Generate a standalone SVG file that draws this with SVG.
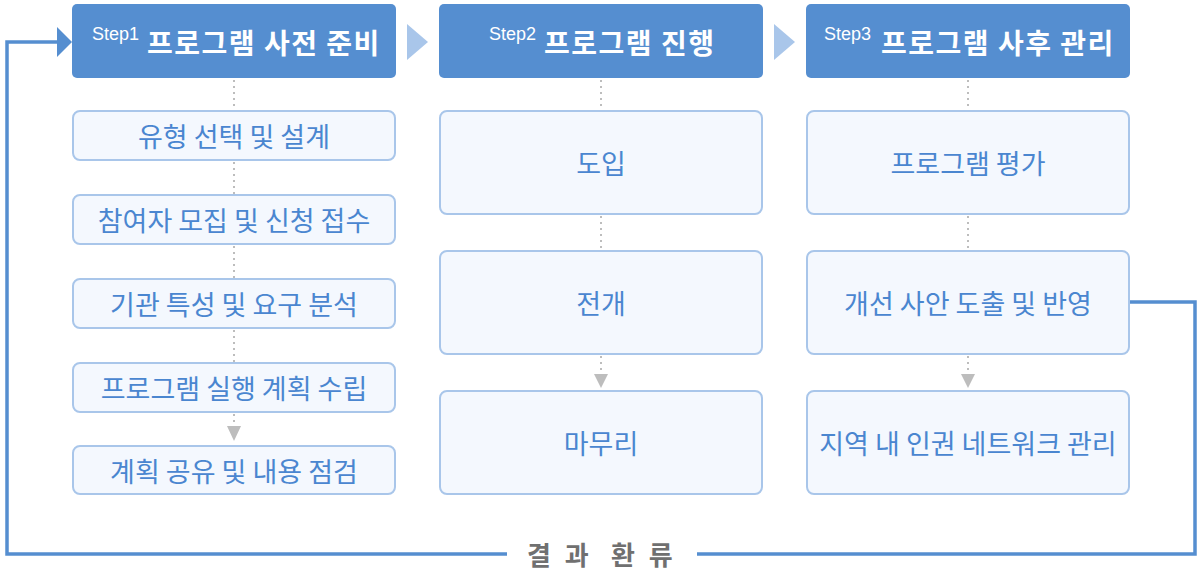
<svg xmlns="http://www.w3.org/2000/svg" width="1202" height="572" viewBox="0 0 1202 572">
<defs>
<style>
.hdr{fill:#558ed0;}
.box{fill:#f4f8fe;stroke:#a9c6ea;stroke-width:2;}
.t{font-family:"Noto Sans CJK KR","Noto Sans",sans-serif;fill:#4a86d0;font-size:27px;text-anchor:middle;dominant-baseline:central;}
.ttl{font-family:"Noto Sans CJK KR","Noto Sans",sans-serif;fill:#fff;font-size:28px;font-weight:bold;letter-spacing:1.5px;}
.stp{font-family:"Liberation Sans","Noto Sans",sans-serif;fill:#fff;font-size:18px;}
.dot{stroke:#bdbdbd;stroke-width:2;stroke-dasharray:2 4;fill:none;}
.ah{fill:#bdbdbd;}
.chev{fill:#a9c6ea;}
.loop{stroke:#558ed0;stroke-width:3.5;fill:none;}
.lbl{font-family:"Noto Sans CJK KR","Noto Sans",sans-serif;font-size:26px;font-weight:bold;fill:#707070;letter-spacing:4px;}
</style>
</defs>
<rect width="1202" height="572" fill="#fff"/>
<g id="connectors">
<path class="loop" d="M507 554 H7 V42 H58"/>
<polygon points="57,27 72,42 57,57" fill="#558ed0"/>
<path class="loop" d="M1130 302 H1195 V554 H697"/>
<polygon class="chev" points="407,24 428,42 407,60"/>
<polygon class="chev" points="774,24 795,42 774,60"/>
<line class="dot" x1="234" y1="80" x2="234" y2="110"/>
<line class="dot" x1="234" y1="162" x2="234" y2="194"/>
<line class="dot" x1="234" y1="246" x2="234" y2="278"/>
<line class="dot" x1="234" y1="330" x2="234" y2="362"/>
<line class="dot" x1="234" y1="414" x2="234" y2="426"/>
<polygon class="ah" points="227,426 241,426 234,441"/>
<line class="dot" x1="601" y1="80" x2="601" y2="110"/>
<line class="dot" x1="601" y1="216" x2="601" y2="250"/>
<line class="dot" x1="601" y1="356" x2="601" y2="374"/>
<polygon class="ah" points="594,374 608,374 601,388"/>
<line class="dot" x1="968" y1="80" x2="968" y2="110"/>
<line class="dot" x1="968" y1="216" x2="968" y2="250"/>
<line class="dot" x1="968" y1="356" x2="968" y2="374"/>
<polygon class="ah" points="961,374 975,374 968,388"/>
</g>
<g id="loop-label">
<text class="lbl" y="565"><tspan x="527">결 과</tspan> <tspan x="611">환 류</tspan></text>
</g>
<g id="step1">
<rect class="hdr" x="72" y="4" width="324" height="74" rx="5"/>
<text class="stp" x="92" y="40">Step1</text>
<text class="ttl" x="147" y="54">프로그램 사전 준비</text>
</g>
<g id="step2">
<rect class="hdr" x="439" y="4" width="324" height="74" rx="5"/>
<text class="stp" x="489" y="40">Step2</text>
<text class="ttl" x="544" y="54">프로그램 진행</text>
</g>
<g id="step3">
<rect class="hdr" x="806" y="4" width="324" height="74" rx="5"/>
<text class="stp" x="824" y="40">Step3</text>
<text class="ttl" x="881" y="54">프로그램 사후 관리</text>
</g>
<g id="s1-1"><rect class="box" x="73" y="111" width="322" height="49" rx="7"/><text class="t" x="234" y="135">유형 선택 및 설계</text></g>
<g id="s1-2"><rect class="box" x="73" y="195" width="322" height="49" rx="7"/><text class="t" x="234" y="219">참여자 모집 및 신청 접수</text></g>
<g id="s1-3"><rect class="box" x="73" y="279" width="322" height="49" rx="7"/><text class="t" x="234" y="303">기관 특성 및 요구 분석</text></g>
<g id="s1-4"><rect class="box" x="73" y="363" width="322" height="49" rx="7"/><text class="t" x="234" y="387">프로그램 실행 계획 수립</text></g>
<g id="s1-5"><rect class="box" x="73" y="446" width="322" height="48" rx="7"/><text class="t" x="234" y="470">계획 공유 및 내용 점검</text></g>
<g id="s2-1"><rect class="box" x="440" y="111" width="322" height="103" rx="7"/><text class="t" x="601" y="162">도입</text></g>
<g id="s2-2"><rect class="box" x="440" y="251" width="322" height="103" rx="7"/><text class="t" x="601" y="302">전개</text></g>
<g id="s2-3"><rect class="box" x="440" y="391" width="322" height="103" rx="7"/><text class="t" x="601" y="442">마무리</text></g>
<g id="s3-1"><rect class="box" x="807" y="111" width="322" height="103" rx="7"/><text class="t" x="968" y="162">프로그램 평가</text></g>
<g id="s3-2"><rect class="box" x="807" y="251" width="322" height="103" rx="7"/><text class="t" x="968" y="302">개선 사안 도출 및 반영</text></g>
<g id="s3-3"><rect class="box" x="807" y="391" width="322" height="103" rx="7"/><text class="t" x="968" y="442">지역 내 인권 네트워크 관리</text></g>
</svg>
